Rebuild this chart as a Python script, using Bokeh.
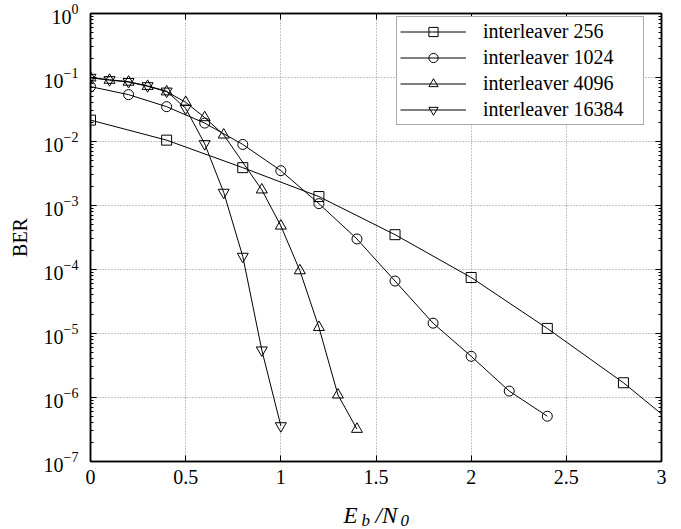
from bokeh.plotting import figure
from bokeh.layouts import column
from bokeh.models import (Range1d, FixedTicker, LogAxis, LinearAxis, Legend,
                          LegendItem, LogTickFormatter, NumeralTickFormatter)
from bokeh.core.properties import value
from bokeh.embed import file_html
from bokeh.resources import INLINE

# ---------------- data ----------------
x_256 = [0.0, 0.4, 0.8, 1.2, 1.6, 2.0, 2.4, 2.8, 3.2]
ber_256 = [0.0216, 0.0105, 0.0039, 0.00138, 3.5e-4, 7.5e-5, 1.2e-5, 1.7e-6, 1.8e-7]

x_1024 = [0.0, 0.2, 0.4, 0.6, 0.8, 1.0, 1.2, 1.4, 1.6, 1.8, 2.0, 2.2, 2.4]
ber_1024 = [0.072, 0.054, 0.035, 0.0194, 0.0090, 0.0035, 0.00107, 3.0e-4,
            6.6e-5, 1.45e-5, 4.4e-6, 1.26e-6, 5.1e-7]

x_4096 = [0.0, 0.1, 0.2, 0.3, 0.4, 0.5, 0.6, 0.7, 0.9, 1.0, 1.1, 1.2, 1.3, 1.4]
ber_4096 = [0.099, 0.091, 0.085, 0.073, 0.060, 0.041, 0.0237, 0.0127, 0.00176,
            4.8e-4, 9.6e-5, 1.25e-5, 1.1e-6, 3.2e-7]

x_16384 = [0.0, 0.1, 0.2, 0.3, 0.4, 0.5, 0.6, 0.7, 0.8, 0.9, 1.0]
ber_16384 = [0.100, 0.092, 0.086, 0.074, 0.061, 0.033, 0.0092, 0.0016, 1.6e-4,
             5.5e-6, 3.6e-7]

series_names = ["interleaver 256", "interleaver 1024", "interleaver 4096", "interleaver 16384"]
x_ticks = [0, 0.5, 1, 1.5, 2, 2.5, 3]
y_exponents = [-7, -6, -5, -4, -3, -2, -1, 0]
y_label = "BER"
# x-axis label "E_b /N_0" as (text, is_subscript) pieces
x_label_parts = [("E", False), ("b", True), ("/N", False), ("0", True)]

# ---------------- figure ----------------
FONT = "Liberation Serif"
LEFT, FW, RIGHT = 90, 571, 12
W = LEFT + FW + RIGHT
p = figure(frame_width=FW, frame_height=448,
           min_border_left=LEFT, min_border_top=13, min_border_right=RIGHT, min_border_bottom=35,
           y_axis_type="log", x_range=Range1d(0, 3), y_range=Range1d(1e-7, 1),
           output_backend="svg", toolbar_location=None)
p.background_fill_color = "white"
p.border_fill_color = "white"
p.outline_line_color = "black"
p.outline_line_width = 1.5

y_major = [10.0 ** e for e in y_exponents]
y_minor = [m * 10.0 ** e for e in y_exponents[:-1] for m in range(2, 10)]
y_ticker = FixedTicker(ticks=y_major, minor_ticks=y_minor)
x_ticker = FixedTicker(ticks=x_ticks, minor_ticks=[])

xa = p.xaxis[0]
xa.ticker = x_ticker
xa.formatter = NumeralTickFormatter(format="0.[0]")
ya = p.yaxis[0]
ya.ticker = y_ticker
ya.formatter = LogTickFormatter()
ya.axis_label = y_label

for ax in (xa, ya):
    ax.axis_line_color = "black"
    ax.axis_line_width = 1.5
    ax.major_tick_in = 6
    ax.major_tick_out = 0
    ax.minor_tick_in = 3
    ax.minor_tick_out = 0
    ax.major_tick_line_color = "black"
    ax.minor_tick_line_color = "black"
    ax.major_label_text_font = FONT
    ax.major_label_text_font_size = "20px"
    ax.major_label_text_color = "black"
    ax.axis_label_text_font = FONT
    ax.axis_label_text_font_size = "20px"
    ax.axis_label_text_font_style = "normal"
    ax.axis_label_text_color = "black"
xa.major_label_standoff = 8
ya.major_label_standoff = 12
ya.axis_label_standoff = 10

# mirror axes (ticks only, labels not painted)
top = LinearAxis(ticker=x_ticker, major_tick_in=6, major_tick_out=0,
                 minor_tick_in=0, minor_tick_out=0,
                 axis_line_color="black", axis_line_width=1.5,
                 major_label_text_font_size="1px", major_label_text_color=None,
                 major_label_standoff=0)
right = LogAxis(ticker=y_ticker, formatter=LogTickFormatter(),
                major_tick_in=6, major_tick_out=0,
                minor_tick_in=3, minor_tick_out=0,
                axis_line_color="black", axis_line_width=1.5,
                major_label_text_font_size="1px", major_label_text_color=None,
                major_label_standoff=0)
p.add_layout(top, "above")
p.add_layout(right, "right")

for g in (p.xgrid[0], p.ygrid[0]):
    g.grid_line_color = "#8a8a8a"
    g.grid_line_dash = "1 2"
    g.grid_line_width = 1
p.xgrid[0].ticker = x_ticker
p.ygrid[0].ticker = y_ticker

specs = [
    (x_256, ber_256, "square", 10),
    (x_1024, ber_1024, "circle", 10),
    (x_4096, ber_4096, "triangle", 11),
    (x_16384, ber_16384, "inverted_triangle", 11),
]
items = []
for (xs, ys, marker, size), name in zip(specs, series_names):
    ln = p.line(xs, ys, line_color="black", line_width=1)
    sc = p.scatter(xs, ys, marker=marker, size=size, line_color="black",
                   fill_color=None, line_width=1)
    items.append(LegendItem(label=name, renderers=[ln, sc]))

legend = Legend(items=items, location=(306, 336),
                label_text_font=FONT, label_text_font_size="20px",
                label_text_color="black",
                glyph_width=66, glyph_height=23, label_height=23, label_width=157,
                label_standoff=17, spacing=3, padding=3, margin=0,
                border_line_color="#555555", border_line_width=1,
                background_fill_color="white", background_fill_alpha=1.0)
p.add_layout(legend, "center")

# ---------------- strip below for the x-axis label ----------------
# (its frame is aligned with the main frame, so x is given in page pixels)
H2 = 33
q = figure(title=None, width=W, height=H2,
           x_range=Range1d(LEFT, LEFT + FW), y_range=Range1d(0, H2),
           x_axis_location=None, y_axis_location=None,
           min_border=0, output_backend="svg", toolbar_location=None)
q.grid.visible = False
q.outline_line_color = None
q.background_fill_color = "white"
q.border_fill_color = "white"

part_x = [343, 361, 375, 400]
part_y = [14, 9, 14, 9]
for (txt, sub), px, py in zip(x_label_parts, part_x, part_y):
    q.text(x=[px], y=[py], text=[txt], text_font=value(FONT),
           text_font_size="17px" if sub else "23px", text_font_style="italic",
           text_color="black", text_align="left", text_baseline="alphabetic")

layout = column(p, q, spacing=0)

with open("out.html", "w") as f:
    f.write(file_html(layout, INLINE))
